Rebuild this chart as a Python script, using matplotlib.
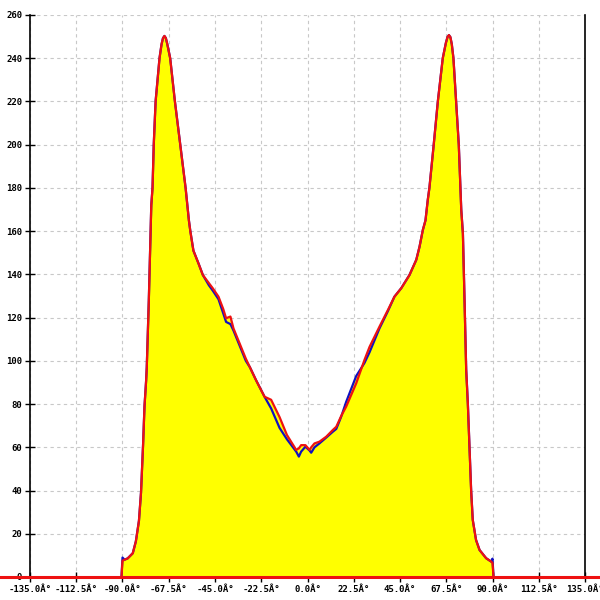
import numpy as np
import matplotlib
matplotlib.use("Agg")
import matplotlib.pyplot as plt

# angle grid (deg) and the two traced profiles
angle = [-90.5, -90, -89, -87.5, -85, -83.5, -82, -81, -80, -79.3, -78.5, -78.2, -77.2, -76,
         -75.4, -74.8, -73.9, -72, -71, -70.3, -69.6, -68.9, -68.2, -66.8, -64.5, -61.9, -59.3,
         -57.7, -57, -55.5, -53, -50.9, -48, -46.1, -43.3, -41, -39.6, -37.5, -36, -33, -30,
         -28, -25, -20.9, -17.7, -13.6, -10, -5.5, -4.2, -3.1, -1, 1, 1.8, 3.4, 5.8, 9.1, 12.3,
         14, 16.4, 18.8, 23.7, 27.7, 30.2, 35, 39.1, 42.3, 45.6, 49.6, 52.9, 54.5, 56.1, 57.4,
         58.5, 59.3, 61.4, 63.4, 65.8, 67.3, 68.1, 68.8, 69.5, 70.2, 71, 72.3, 73.6, 74.4, 74.8,
         75.6, 76.4, 77.2, 78, 78.8, 79.6, 80.4, 82, 83.7, 86.9, 89.4, 90, 90.5]

red = [0, 7.5, 8, 8.6, 11, 16.5, 26, 39, 61, 79, 91, 97, 128, 172,
       180, 200, 220, 240, 246.5, 249.3, 250.3, 249.3, 246.5, 240, 220, 200, 180,
       165, 160, 151, 145, 139.7, 136, 133.6, 129.7, 124, 119.7, 120.5, 115, 108, 101,
       97, 91, 83.4, 82, 74, 65.7, 58.8, 59.5, 61, 61, 58.8, 60, 61.8, 62.6, 64.9, 68,
       69.5, 74.5, 78.8, 89.6, 100.4, 106.5, 115.8, 123.5, 129.7, 133.6, 139.7, 146.7, 152.8, 160.5, 165,
       174.4, 180, 200, 220, 240, 247, 249.8, 250.7, 249.8, 246.5, 240, 220, 200, 180, 170,
       159, 128, 96, 80.4, 60.3, 40.3, 26.4, 17.1, 12.5, 8.7, 7.1, 6.5, 0]

blue = [0, 9, 8, 8.6, 11, 16.5, 26, 39, 61, 79, 91, 97, 128, 172,
        180, 200, 220, 240, 246.5, 249.3, 250.3, 249.3, 246.5, 240, 220, 200, 180,
        165, 160, 151, 145, 139.7, 135, 132.5, 128.5, 122, 118, 117, 114, 107, 100,
        97, 91, 83.4, 78, 69, 63.7, 58, 55.7, 58, 60.3, 58.5, 57.5, 60, 61.8, 64.5, 67.2,
        68.5, 74.2, 81, 93, 99, 104, 115, 123, 129.7, 133.6, 139.7, 146.7, 152.8, 160.5, 165,
        174.4, 180, 200, 220, 240, 247, 249.8, 250.7, 249.8, 246.5, 240, 220, 200, 180, 170,
        159, 128, 96, 80.4, 60.3, 40.3, 26.4, 17.1, 12.5, 8.7, 7.1, 8.5, 0]

xticks = np.arange(-135, 135.1, 22.5)
yticks = np.arange(0, 261, 20)

fig = plt.figure(figsize=(6, 6), dpi=100)
ax = fig.add_axes([30/600, 23/600, 555/600, 562/600])

ax.fill_between(angle, np.maximum(red, blue), 0, color="#ffff00", lw=0, zorder=2)
ax.plot(angle, blue, color="#1010c0", lw=1.6, zorder=3)
ax.plot(angle, red, color="#ee1111", lw=1.6, zorder=4)
ax.axhline(0, xmin=-0.055, xmax=1.03, color="#ee1111", lw=2.2, clip_on=False, zorder=5)

ax.set_xlim(-135, 135)
ax.set_ylim(0, 260)
ax.set_xticks(xticks)
ax.set_xticklabels([f"{v:.1f}Â°" for v in xticks])
ax.set_yticks(yticks)
ax.set_yticklabels([str(v) for v in yticks])

ax.grid(True, color="#c8c8c8", ls=(0, (3, 3)), lw=0.8, zorder=1)
ax.set_axisbelow(True)
ax.spines["top"].set_visible(False)
for s in ["left", "right", "bottom"]:
    ax.spines[s].set_color("black")
    ax.spines[s].set_linewidth(1.2)
ax.tick_params(direction="inout", length=7, width=1, colors="black",
               labelsize=6.5, pad=2)
for lab in ax.get_xticklabels() + ax.get_yticklabels():
    lab.set_family("DejaVu Sans Mono")
    lab.set_fontweight("bold")

fig.savefig("out.png", dpi=100)
